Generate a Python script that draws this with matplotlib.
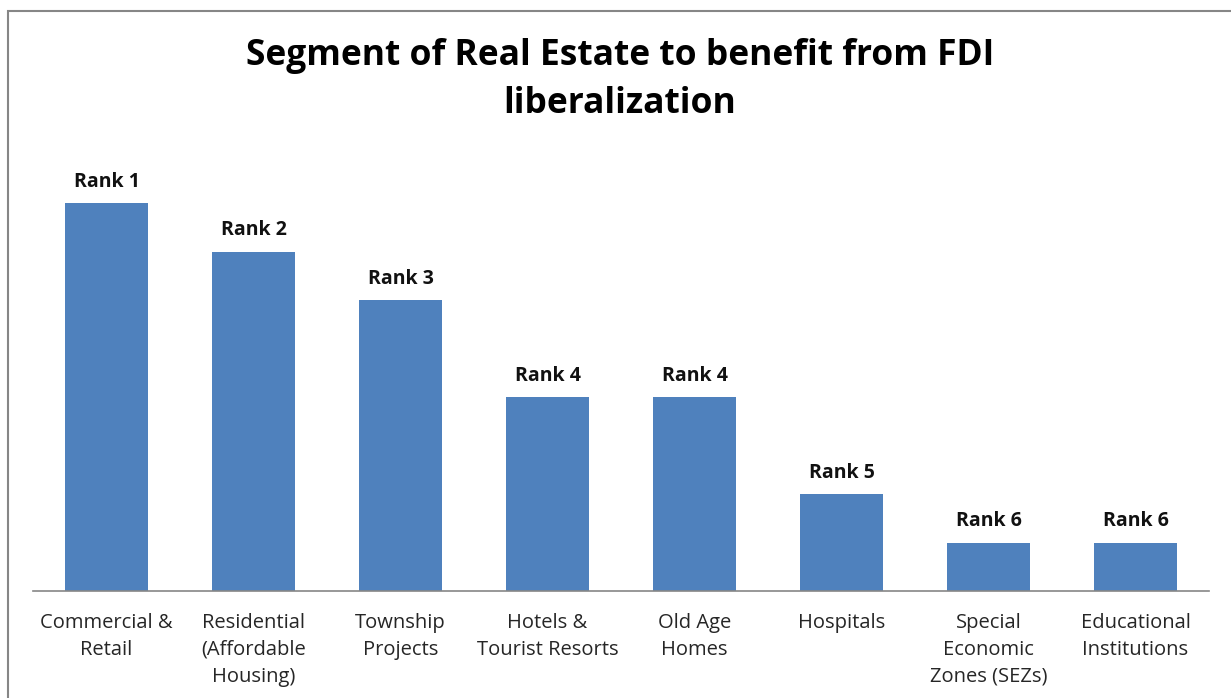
import matplotlib
matplotlib.use("Agg")
import matplotlib.pyplot as plt
from matplotlib.patches import Rectangle

categories = ["Commercial &\nRetail", "Residential\n(Affordable\nHousing)", "Township\nProjects",
              "Hotels &\nTourist Resorts", "Old Age\nHomes", "Hospitals",
              "Special\nEconomic\nZones (SEZs)", "Educational\nInstitutions"]
values = [8, 7, 6, 4, 4, 2, 1, 1]
rank_labels = ["Rank 1", "Rank 2", "Rank 3", "Rank 4", "Rank 4", "Rank 5", "Rank 6", "Rank 6"]
title = "Segment of Real Estate to benefit from FDI\nliberalization"

W, H = 1231, 698
fig = plt.figure(figsize=(W / 100, H / 100), dpi=100)
fig.patch.set_facecolor("white")

base_y = 591
unit = 48.5
top_y = 150
ymax = (base_y - top_y) / unit
ax = fig.add_axes([33 / W, (H - base_y) / H, (1209 - 33) / W, (base_y - top_y) / H])
x = range(len(values))
bars = ax.bar(x, values, width=0.565, color="#4F81BD")
ax.set_xlim(-0.5, len(values) - 0.5)
ax.set_ylim(0, ymax)
for s in ["top", "right", "left"]:
    ax.spines[s].set_visible(False)
ax.spines["bottom"].set_color("#868686")
ax.spines["bottom"].set_linewidth(1.2)
ax.set_yticks([])
ax.set_xticks(list(x))
ax.set_xticklabels(categories, fontsize=14.5, color="#262626", fontfamily="Open Sans", linespacing=1.45)
ax.tick_params(axis="x", length=0, pad=16)
for xi, v, lab in zip(x, values, rank_labels):
    ax.annotate(lab, (xi, v), xytext=(0, 8), textcoords="offset points", ha="center", va="bottom",
                fontsize=14, fontweight="bold", fontfamily="Open Sans", color="#111111")

fig.text(620 / W, 1 - 80 / H, title, ha="center", va="center", fontsize=25.5, fontweight="bold",
         fontfamily="Open Sans", linespacing=1.45, color="#000000")

fig.patches.append(Rectangle((8 / W, -0.1), 1.2, 1 - 11 / H + 0.1, transform=fig.transFigure,
                             fill=False, edgecolor="#868686", linewidth=1.5, clip_on=False))

fig.savefig("out.png", dpi=100)
